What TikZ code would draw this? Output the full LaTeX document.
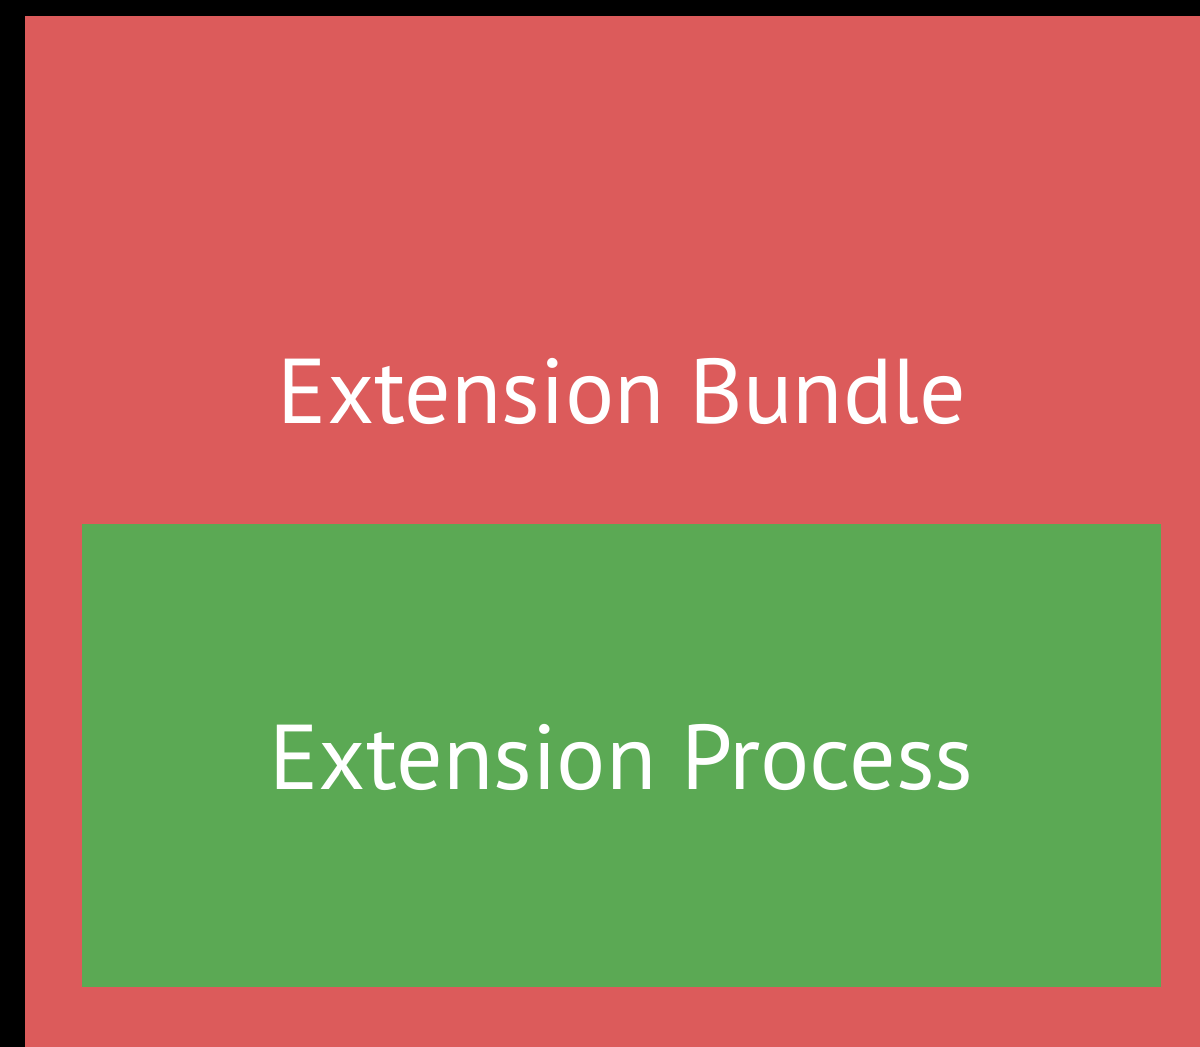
\documentclass[tikz,border=0pt]{standalone}
\usepackage{fontspec}
\setmainfont{PT Sans}
\definecolor{bundlered}{HTML}{DC5B5B}
\definecolor{processgreen}{HTML}{5BA954}
\begin{document}
\begin{tikzpicture}[x=1pt,y=-1pt,
  label/.style={text=white,font=\fontsize{92}{110}\selectfont,anchor=base,inner sep=0pt}]
  % background
  \fill[black] (0,0) rectangle (1200,1047);
  \useasboundingbox (0,0) rectangle (1200,1047);
  % outer bundle
  \fill[bundlered] (25,16) rectangle (1200,1047);
  % inner process
  \fill[processgreen] (82,524) rectangle (1161,987);
  \node[label] (bundletext) at (622,423) {Extension Bundle};
  \node[label] (processtext) at (621.5,789) {Extension Process};
\end{tikzpicture}
\end{document}
